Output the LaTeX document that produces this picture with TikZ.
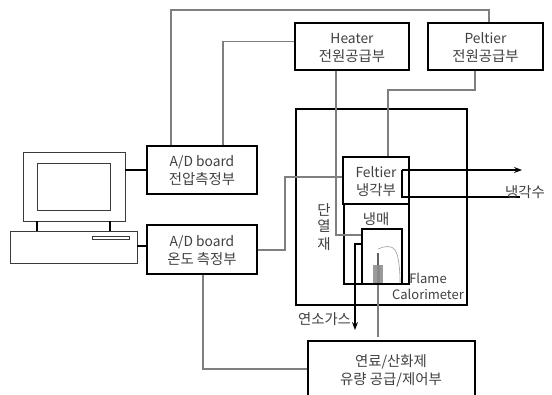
\documentclass[tikz,border=0pt]{standalone}
\usepackage{fontspec}
\setmainfont{Noto Sans CJK KR}
\usetikzlibrary{calc,arrows.meta,positioning}
\newcommand{\latinText}[1]{{\fontsize{13.8}{18}\selectfont\rule{0pt}{13pt}#1}}
\newcommand{\latinSmall}[1]{{\fontsize{13}{18}\selectfont #1}}

\begin{document}
\begin{tikzpicture}[
	x=1pt, y=-1pt,
	>=Stealth,
	font=\fontsize{14.4}{18}\selectfont,
	unitBox/.style={draw=black, line width=1.6pt, fill=white, inner sep=0pt, align=center, text=labelColor},
	pcPart/.style={draw=pcColor, line width=0.8pt, fill=white, inner sep=0pt},
	wireGray/.style={wireColor, line width=1.1pt},
	wireDark/.style={black, line width=1.1pt},
	label/.style={text=labelColor, inner sep=0pt, align=center}
	]
	
	% Colors
	\definecolor{labelColor}{HTML}{404040}
	\definecolor{wireColor}{HTML}{7F7F7F}
	\definecolor{pcColor}{HTML}{3A3A3A}
	\definecolor{burnerColor}{HTML}{9A9A9A}
	
	\useasboundingbox (0,0) rectangle (552,394);
	\clip (0,0) rectangle (552,394);
	
	% Housing boxes
	\node[unitBox, minimum width=171pt, minimum height=196pt] (housing) at (381.5,207) {};
	\node[unitBox, minimum width=65pt, minimum height=80pt] (coolant) at (376.5,244) {};
	\node[unitBox, minimum width=66pt, minimum height=47pt] (peltierCool) at (376,180.5) {\latinText{Feltier}\\냉각부};
	\node[unitBox, minimum width=40pt, minimum height=55pt] (calorimeter) at (382,256.5) {};
	
	% Supply and board boxes
	\node[unitBox, minimum width=114pt, minimum height=47pt] (heater) at (352,46.5) {\latinText{Heater}\\전원공급부};
	\node[unitBox, minimum width=115pt, minimum height=47pt] (peltier) at (485.5,46.5) {\latinText{Peltier}\\전원공급부};
	\node[unitBox, minimum width=110pt, minimum height=48pt] (boardV) at (202,170) {\latinText{A/D board}\\전압측정부};
	\node[unitBox, minimum width=110pt, minimum height=49pt] (boardT) at (202,249.5) {\latinText{A/D board}\\온도 측정부};
	\node[unitBox, minimum width=167pt, minimum height=90pt] (fuel) at (391.5,386) {};
	\node[label] (fuelText) at (391,371) {연료/산화제\\유량 공급/제어부};
	
	% Computer
	\node[pcPart, minimum width=102pt, minimum height=69pt] (monitor) at (74,186.5) {};
	\node[pcPart, minimum width=73pt, minimum height=47pt] (screen) at (73.5,186.5) {};
	\node[pcPart, minimum width=127pt, minimum height=32pt] (base) at (73.5,247) {};
	\node[pcPart, minimum width=37pt, minimum height=3pt] (slot) at (110.5,237.5) {};
	\draw[wireDark] (37,221) -- (37,231);
	\draw[wireDark] (110,221) -- (110,231);
	\draw[wireDark] (monitor.east |- boardV.west) -- (boardV.west);
	\draw[wireDark] (base.east |- 0,246) -- (boardT.west |- 0,246);
	
	% Named bends
	\coordinate (topLeft) at (171,10);
	\coordinate (topRight) at (489,10);
	\coordinate (heaterBend) at (223,41.5);
	\coordinate (heaterDrop) at (336,235);
	\coordinate (peltierBend) at (475,90);
	\coordinate (peltierDrop) at (388,90);
	\coordinate (sensorUp) at (285,177);
	\coordinate (sensorDown) at (285,250);
	\coordinate (fuelBend) at (203,369);
	\coordinate (fuelTop) at (378,337);
	\coordinate (gasCorner) at (355,244);
	\coordinate (gasEnd) at (355,330);
	\coordinate (waterOut) at (522,170);
	\coordinate (waterIn) at (520,197);
	
	% Gray wires
	\draw[wireGray] (topLeft |- boardV.north) -- (topLeft) -- (topRight) -- (topRight |- peltier.north);
	\draw[wireGray] (heater.west |- heaterBend) -- (heaterBend) -- (heaterBend |- boardV.north);
	\draw[wireGray] (heaterDrop |- heater.south) -- (heaterDrop) -- (calorimeter.west |- heaterDrop);
	\draw[wireGray] (peltierBend |- peltier.south) -- (peltierBend) -- (peltierDrop) -- (peltierDrop |- peltierCool.north);
	\draw[wireGray] (peltierCool.west |- sensorUp) -- (sensorUp) -- (sensorDown) -- (boardT.east |- sensorDown);
	\draw[wireGray] (fuelBend |- boardT.south) -- (fuelBend) -- (fuel.west |- fuelBend);
	\draw[wireGray] (fuelTop |- calorimeter.south) -- (fuelTop);
	
	% Black pipes
	\draw[wireDark] (waterIn) -- (402,197) -- (402,170);
	\draw[->, wireDark] (402,170) -- (waterOut);
	\draw[->, wireDark] (calorimeter.west |- gasCorner) -- (gasCorner) -- (gasEnd);
	
	% Burner and flame
	\fill[burnerColor] (373,265) rectangle (383,283);
	\fill[pcColor!80] (376.5,253) rectangle (379,266);
	\fill[pcColor!60] (377,265) rectangle (380,283);
	\draw[burnerColor, line width=0.6pt] (378,249) .. controls (384,246) and (392,245) .. (395,250) .. controls (399,256) and (400,270) .. (400,283);
	
	% Labels
	\node[label] (waterLabel) at (525,192) {냉각수};
	\node[label] (gasLabel) at (324.5,319) {연소가스};
	\node[label] (coolantLabel) at (376,219.5) {냉매};
	\node[label] (insulA) at (324,210) {단};
	\node[label] (insulB) at (324,226) {열};
	\node[label] (insulC) at (324,244) {재};
	\node[label] (flameLabel) at (428,278) {\latinSmall{Flame}};
	\node[label] (calorLabel) at (428,294.5) {\latinSmall{Calorimeter}};
\end{tikzpicture}
\end{document}
